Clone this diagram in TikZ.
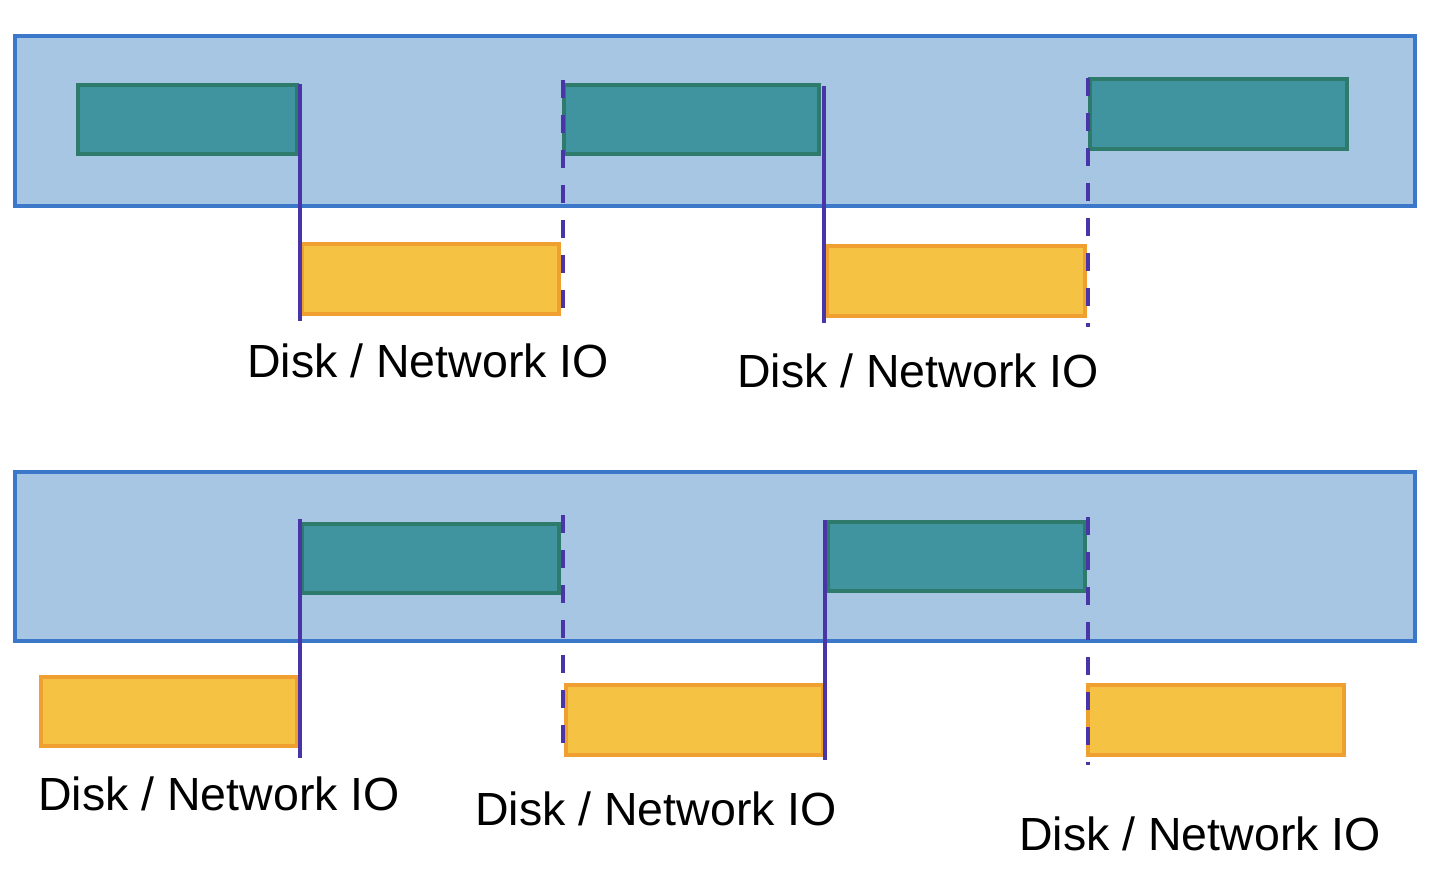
\documentclass[tikz,border=0pt]{standalone}
\usepackage{fontspec}
\setmainfont{Liberation Sans}
\definecolor{panelfill}{HTML}{A7C6E3}
\definecolor{panelline}{HTML}{3B78C9}
\definecolor{cpufill}{HTML}{3F949F}
\definecolor{cpuline}{HTML}{2E7B6C}
\definecolor{iofill}{HTML}{F6C244}
\definecolor{ioline}{HTML}{F0A030}
\definecolor{markline}{HTML}{4A35A8}
\tikzset{
  panel/.style={draw=panelline, fill=panelfill, line width=4pt, rectangle, inner sep=0pt, anchor=center},
  cpubox/.style={draw=cpuline, fill=cpufill, line width=3.5pt, rectangle, inner sep=0pt, anchor=center},
  iobox/.style={draw=ioline, fill=iofill, line width=3.5pt, rectangle, inner sep=0pt, anchor=center},
  solidmark/.style={draw=markline, line width=4.5pt},
  dashmark/.style={draw=markline, line width=4.5pt, dash pattern=on 18pt off 17pt},
  lbl/.style={font=\fontsize{46.5}{55}\selectfont, inner sep=0pt, anchor=base west}
}
\begin{document}
\begin{tikzpicture}[x=1pt,y=-1pt]
\useasboundingbox (0,0) rectangle (1434,896);
% panels (centre, size measured between line centres)
\node[panel, minimum width=1400pt, minimum height=170pt] (p1) at (715,121) {};
\node[panel, minimum width=1400pt, minimum height=169pt] (p2) at (715,556.5) {};
% top row
\node[cpubox, minimum width=219pt, minimum height=69pt] (c1) at (187.5,119.5) {};
\node[cpubox, minimum width=255pt, minimum height=69pt] (c2) at (691.5,119.5) {};
\node[cpubox, minimum width=257pt, minimum height=70pt] (c3) at (1218.5,114) {};
\node[iobox, minimum width=257pt, minimum height=70pt] (y1) at (430.5,279) {};
\node[iobox, minimum width=258pt, minimum height=70pt] (y2) at (956,281) {};
% bottom row
\node[cpubox, minimum width=257pt, minimum height=69pt] (c4) at (430.5,558.5) {};
\node[cpubox, minimum width=257pt, minimum height=69pt] (c5) at (956.5,556.5) {};
\node[iobox, minimum width=256pt, minimum height=69pt] (y3) at (169,711.5) {};
\node[iobox, minimum width=257pt, minimum height=70pt] (y4) at (694.5,720) {};
\node[iobox, minimum width=256pt, minimum height=70pt] (y5) at (1216,720) {};
% marker end points
\coordinate (a1) at (300,84);  \coordinate (a2) at (300,321);
\coordinate (b1) at (563,80);  \coordinate (b2) at (563,322);
\coordinate (d1) at (824,86);  \coordinate (d2) at (824,323);
\coordinate (e1) at (1088,78); \coordinate (e2) at (1088,327);
\coordinate (f1) at (300,519); \coordinate (f2) at (300,758);
\coordinate (g1) at (563,515); \coordinate (g2) at (563,758);
\coordinate (h1) at (825,520); \coordinate (h2) at (825,760);
\coordinate (k1) at (1088,517); \coordinate (k2) at (1088,765);
\draw[solidmark] (a1) -- (a2);
\draw[dashmark] (b1) -- (b2);
\draw[solidmark] (d1) -- (d2);
\draw[dashmark] (e1) -- (e2);
\draw[solidmark] (f1) -- (f2);
\draw[dashmark] (g1) -- (g2);
\draw[solidmark] (h1) -- (h2);
\draw[dashmark] (k1) -- (k2);
% labels
\node[lbl] (t1) at (247,377) {Disk / Network IO};
\node[lbl] (t2) at (737,387) {Disk / Network IO};
\node[lbl] (t3) at (38,810) {Disk / Network IO};
\node[lbl] (t4) at (475,825) {Disk / Network IO};
\node[lbl] (t5) at (1019,850) {Disk / Network IO};
\end{tikzpicture}
\end{document}
